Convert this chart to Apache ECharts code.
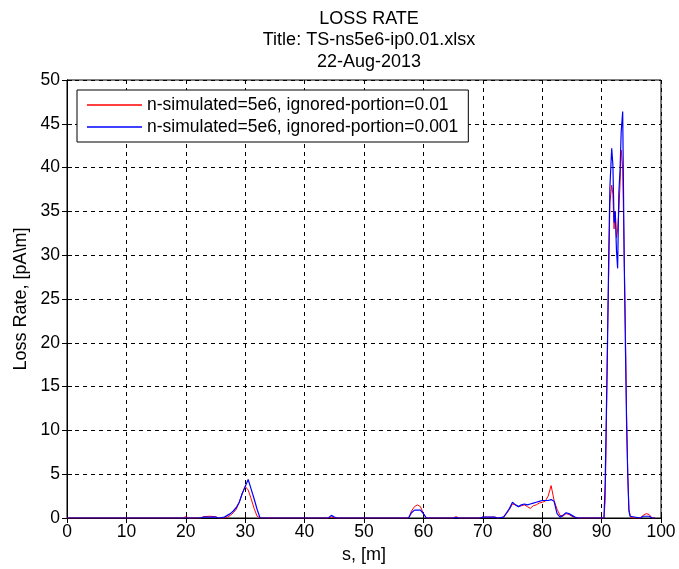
<!DOCTYPE html>
<html>
<head>
<meta charset="utf-8">
<script src="https://cdn.jsdelivr.net/npm/echarts@6/dist/echarts.min.js"></script>
<style>
  html, body { margin: 0; padding: 0; background: #fff; }
  #chart { width: 679px; height: 569px; }
</style>
</head>
<body>
<div id="chart"></div>
<script>
// positions along the line, [m]
var sPos = [0, 19.5, 20, 20.5, 22.5, 23, 24, 25, 25.5, 26.5, 27, 27.5, 28, 28.5, 29, 29.5, 30, 30.5, 31, 31.5, 32, 32.5, 33,
  44, 44.5, 45, 45.5, 57.5, 58, 58.5, 59, 59.5, 60, 60.5, 65, 65.5, 66, 69.5, 70, 72, 72.5,
  73.5, 74, 74.5, 75, 75.5, 76, 76.5, 77, 77.5, 78, 78.5, 79, 79.5, 80, 80.5, 81, 81.5, 82, 82.5, 83, 83.5, 84, 84.5, 85, 85.5, 86,
  90.4, 90.6, 90.8, 91.0, 91.2, 91.4, 91.7, 91.9, 92.1, 92.3, 92.5, 92.7, 92.9, 93.1, 93.3, 93.55, 93.8, 94.0, 94.2, 94.4, 94.6, 94.8, 95.0,
  96.5, 97, 97.5, 98, 98.5, 99];

// ignored-portion = 0.01
var lossRed = [0, 0, 0.15, 0, 0, 0.15, 0.2, 0.15, 0, 0, 0.1, 0.3, 0.6, 1.0, 1.8, 2.8, 3.6, 3.2, 2.2, 1.1, 0.2, 0, 0,
  0, 0.1, 0, 0, 0, 0.8, 1.3, 1.5, 1.3, 0.5, 0, 0, 0.15, 0, 0, 0.1, 0.1, 0,
  0.1, 0.5, 1.0, 1.6, 1.5, 1.3, 1.4, 1.5, 1.3, 1.1, 1.4, 1.5, 1.7, 1.8, 1.9, 2.5, 3.7, 2.0, 1.0, 0.3, 0.2, 0.5, 0.4, 0.2, 0.05, 0,
  0, 2, 10, 21, 28, 36, 38, 37, 33, 35, 32, 33, 35, 38, 42, 40, 30, 22, 12, 5, 1.0, 0.3, 0,
  0, 0.3, 0.5, 0.4, 0, 0];

// ignored-portion = 0.001
var lossBlue = [0, 0, 0, 0, 0, 0.1, 0.1, 0.1, 0, 0.1, 0.3, 0.5, 0.8, 1.2, 1.8, 2.8, 3.6, 4.4, 3.3, 2.2, 1.0, 0, 0,
  0, 0.3, 0.1, 0, 0, 0.6, 0.9, 0.9, 0.9, 0.5, 0, 0, 0.05, 0, 0, 0.1, 0.1, 0,
  0.1, 0.6, 1.1, 1.8, 1.5, 1.3, 1.5, 1.6, 1.5, 1.6, 1.7, 1.8, 1.9, 2.0, 2.0, 2.0, 2.1, 1.9, 0.5, 0.1, 0.3, 0.6, 0.5, 0.3, 0.1, 0,
  0, 4, 12, 20, 30, 37.8, 42.2, 40.3, 33.7, 35, 30.6, 28.5, 37.1, 39.7, 44.1, 46.4, 29.8, 20, 11, 5, 0.8, 0.2, 0,
  0, 0.2, 0.2, 0.2, 0, 0];

var seriesNames = ['n-simulated=5e6, ignored-portion=0.01', 'n-simulated=5e6, ignored-portion=0.001'];

function pairs(ys) {
  return sPos.map(function (s, i) { return [s, ys[i]]; });
}

var font = 'Liberation Sans, Arial, sans-serif';
var gridLine = { show: true, lineStyle: { color: '#000', type: [4, 4], width: 1 } };

var option = {
  backgroundColor: '#fff',
  animation: false,
  title: {
    text: 'LOSS RATE\nTitle: TS-ns5e6-ip0.01.xlsx\n22-Aug-2013',
    left: 364, top: 3, textAlign: 'center',
    textStyle: { fontFamily: font, fontSize: 18, fontWeight: 'normal', color: '#000', lineHeight: 21.5 }
  },
  legend: {
    data: seriesNames,
    orient: 'vertical',
    left: 77, top: 90,
    itemWidth: 55, itemHeight: 1.5, itemGap: 4,
    padding: [6, 10, 6, 10],
    borderColor: '#000', borderWidth: 1, backgroundColor: '#fff',
    icon: 'rect',
    textStyle: { fontFamily: font, fontSize: 17.5, color: '#000' }
  },
  grid: { left: 67, right: 18, top: 80, bottom: 51, show: true, borderColor: '#000', borderWidth: 1 },
  xAxis: [{
    type: 'value', min: 0, max: 100, interval: 10,
    name: 's, [m]', nameLocation: 'middle', nameGap: 23,
    nameTextStyle: { fontFamily: font, fontSize: 18, color: '#000' },
    axisLine: { show: true, lineStyle: { color: '#000' } },
    axisTick: { show: true, inside: true, length: 5, lineStyle: { color: '#000' } },
    axisLabel: { fontFamily: font, fontSize: 17.5, color: '#000', margin: 5 },
    splitLine: gridLine
  }, {
    type: 'value', min: 0, max: 100, interval: 10, position: 'top',
    axisLine: { show: true, lineStyle: { color: '#000' } },
    axisTick: { show: true, inside: true, length: 5, lineStyle: { color: '#000' } },
    axisLabel: { show: false }, splitLine: { show: false }
  }],
  yAxis: [{
    type: 'value', min: 0, max: 50, interval: 5,
    name: 'Loss Rate, [pA\\m]', nameLocation: 'middle', nameGap: 36,
    nameTextStyle: { fontFamily: font, fontSize: 18, color: '#000' },
    axisLine: { show: true, lineStyle: { color: '#000' } },
    axisTick: { show: true, inside: true, length: 5, lineStyle: { color: '#000' } },
    axisLabel: { fontFamily: font, fontSize: 17.5, color: '#000', margin: 7 },
    splitLine: gridLine
  }, {
    type: 'value', min: 0, max: 50, interval: 5, position: 'right',
    axisLine: { show: true, lineStyle: { color: '#000' } },
    axisTick: { show: true, inside: true, length: 5, lineStyle: { color: '#000' } },
    axisLabel: { show: false }, splitLine: { show: false }
  }],
  series: [{
    name: seriesNames[0], type: 'line', symbol: 'none',
    color: '#ff0000', lineStyle: { width: 1, color: '#ff0000' },
    data: pairs(lossRed)
  }, {
    name: seriesNames[1], type: 'line', symbol: 'none',
    color: '#0000ff', lineStyle: { width: 1.2, color: '#0000ff' },
    data: pairs(lossBlue)
  }]
};

var chart = echarts.init(document.getElementById('chart'));
chart.setOption(option);
</script>
</body>
</html>
